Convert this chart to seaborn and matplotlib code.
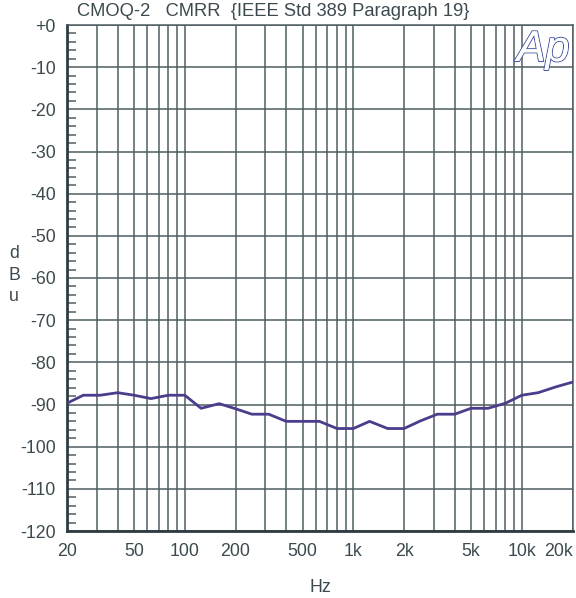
import numpy as np
import pandas as pd
import matplotlib
matplotlib.use("Agg")
import matplotlib.pyplot as plt
import matplotlib.ticker as mticker
import matplotlib.patheffects as pe
import seaborn as sns

sns.set_style("white")
plt.rcParams["font.family"] = ["Liberation Sans", "DejaVu Sans"]

# 1/3-octave CMRR readings
freqs = [20, 25, 31.5, 40, 50, 63, 80, 100, 125, 160, 200, 250, 315, 400, 500,
         630, 800, 1000, 1250, 1600, 2000, 2500, 3150, 4000, 5000, 6300, 8000,
         10000, 12500, 16000, 20000]
cmrr = [-89.7, -87.8, -87.8, -87.2, -87.8, -88.6, -87.8, -87.8, -90.9, -89.8,
        -91.0, -92.3, -92.3, -94.0, -94.0, -94.0, -95.7, -95.7, -94.0, -95.7,
        -95.7, -93.9, -92.3, -92.3, -90.9, -90.9, -89.7, -87.8, -87.2, -85.8,
        -84.7]

xticks = [20, 50, 100, 200, 500, 1000, 2000, 5000, 10000, 20000]
xlabels = ["20", "50", "100", "200", "500", "1k", "2k", "5k", "10k", "20k"]
yticks = list(range(0, -121, -10))
ylabels = ["+0"] + [str(v) for v in yticks[1:]]

df = pd.DataFrame({"Hz": freqs, "dBu": cmrr})

txt = "#3c4a50"
grid = "#4f5e63"
fs = 12.8

fig = plt.figure(figsize=(5.76, 5.98), dpi=100)
ax = fig.add_axes([67 / 576, 1 - 531 / 598, 505.5 / 576, 506 / 598])

ax.set_xscale("log")
ax.set_xlim(20, 20000)
ax.set_ylim(-120, 0)

sns.lineplot(data=df, x="Hz", y="dBu", ax=ax, color="#4b3d8c", linewidth=2, zorder=5)

# grid: every 1-2-..-9 per decade, every 10 dB
ax.xaxis.set_major_locator(mticker.FixedLocator(xticks))
ax.xaxis.set_major_formatter(mticker.FixedFormatter(xlabels))
ax.xaxis.set_minor_locator(mticker.LogLocator(base=10, subs=np.arange(2, 10)))
ax.xaxis.set_minor_formatter(mticker.NullFormatter())
ax.grid(True, which="both", axis="x", color=grid, linewidth=1.1)
ax.set_yticks(yticks)
ax.set_yticklabels(ylabels)
ax.yaxis.set_minor_locator(mticker.MultipleLocator(2))
ax.grid(True, which="major", axis="y", color=grid, linewidth=1.1)

ax.tick_params(axis="x", which="both", length=0, pad=9, labelsize=fs, colors=txt)
ax.tick_params(axis="y", which="major", left=True, length=0, pad=8, labelsize=fs, colors=txt)
ax.tick_params(axis="y", which="minor", left=True, direction="in", length=6.5, width=1.1,
               color=grid)
xl = ax.get_xticklabels()
xl[-1].set_horizontalalignment("right")

for s in ["top", "right"]:
    ax.spines[s].set_color(grid)
    ax.spines[s].set_linewidth(1.1)
for s in ["left", "bottom"]:
    ax.spines[s].set_color("#2e3c42")
    ax.spines[s].set_linewidth(2)

ax.set_xlabel("")
ax.set_ylabel("")
fig.text(320 / 576, 1 - 587 / 598, "Hz", ha="center", va="center", fontsize=fs, color=txt)
fig.text(14 / 576, 1 - 275 / 598, "d\nB\nu", ha="center", va="center", fontsize=fs,
         color=txt, linespacing=1.35)
fig.text(77 / 576, 1 - 12 / 598, "CMOQ-2   CMRR  {IEEE Std 389 Paragraph 19}",
         ha="left", va="center", fontsize=13.2, color=txt)

# Ap logo
logo = fig.text(543 / 576, 1 - 50 / 598, "Ap", ha="center", va="center", fontsize=31,
                style="italic", color="white", zorder=10)
logo.set_path_effects([pe.withStroke(linewidth=1.5, foreground="#4a57a0"), pe.Normal()])

fig.savefig("out.png", dpi=100)
